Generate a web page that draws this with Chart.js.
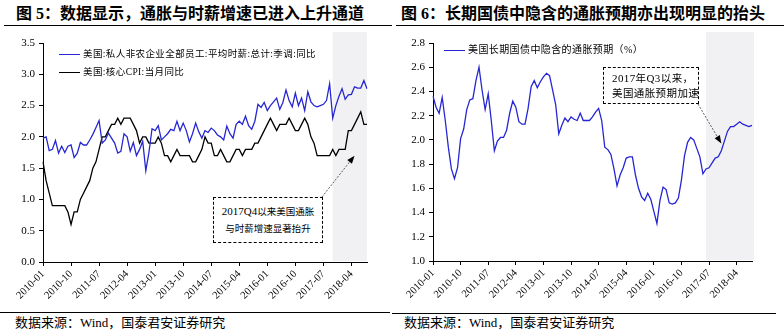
<!DOCTYPE html>
<html>
<head>
<meta charset="utf-8">
<script src="https://cdn.jsdelivr.net/npm/chart.js@4.4.1/dist/chart.umd.min.js"></script>
<style>
    body {
        margin: 0;
        width: 784px;
        height: 335px;
        background: #fff;
        overflow: hidden;
        position: relative;
        font-family: 'Liberation Serif', 'Noto Sans CJK SC', serif;
        color: #000;
    }
    .title {
        position: absolute;
        top: 3px;
        font-size: 16px;
        font-weight: bold;
        white-space: nowrap;
        line-height: 22px;
    }
    .rule {
        position: absolute;
        height: 0;
        border-top: 1.5px solid #000;
    }
    .source {
        position: absolute;
        top: 314px;
        font-size: 13px;
        line-height: 18px;
        white-space: nowrap;
    }
    canvas {
        position: absolute;
        top: 30px;
    }
    .legend-item {
        position: absolute;
        font-size: 9.5px;
        letter-spacing: 0.4px;
        line-height: 12px;
        white-space: nowrap;
    }
    .legend-item i {
        display: inline-block;
        width: 21px;
        height: 0;
        border-top: 1.5px solid;
        vertical-align: middle;
        margin-right: 3px;
    }
    .note {
        position: absolute;
        border: 1.3px dashed #000;
        background: #fff;
        font-size: 9.5px;
        white-space: nowrap;
        box-sizing: border-box;
    }
    .note .num {
        font-size: 11px;
    }
</style>
</head>
<body>

<div class="title" style="left:16px;">图 5：数据显示，通胀与时薪增速已进入上升通道</div>
<div class="title" style="left:401px;">图 6：长期国债中隐含的通胀预期亦出现明显的抬头</div>
<div class="rule" style="left:4px; width:388px; top:25px;"></div>
<div class="rule" style="left:396px; width:388px; top:25px;"></div>

<canvas id="wageChart" width="390" height="282" style="left:0;"></canvas>
<canvas id="breakevenChart" width="392" height="282" style="left:392px;"></canvas>

<div class="legend-item" style="left:59px; top:48px;"><i style="color:#2626d4;"></i>美国:私人非农企业全部员工:平均时薪:总计:季调:同比</div>
<div class="legend-item" style="left:59px; top:66px;"><i style="color:#000;"></i>美国:核心CPI:当月同比</div>
<div class="legend-item" style="left:444px; top:44px; font-size:10px; letter-spacing:0.4px;"><i style="color:#2626d4;"></i>美国长期国债中隐含的通胀预期（%）</div>

<div class="note" id="noteLeft" style="left:213px; top:197px; width:110px; height:46px; text-align:center; line-height:17px; padding-top:5px;">
    <span class="num">2017Q4</span>以来美国通胀<br>与时薪增速显著抬升
</div>
<div class="note" id="noteRight" style="left:603px; top:67px; width:96px; height:37px; line-height:15px; padding:3px 0 0 8px; font-size:10.5px; letter-spacing:0.4px;">
    <span class="num">2017</span>年<span class="num">Q3</span>以来，<br>美国通胀预期加速
</div>

<div class="rule" style="left:0; width:390px; top:312px;"></div>
<div class="rule" style="left:392px; width:384px; top:313px;"></div>
<div class="source" style="left:15px;">数据来源：Wind，国泰君安证券研究</div>
<div class="source" style="left:404px;">数据来源：Wind，国泰君安证券研究</div>

<script>
// 月份：2010-01 至 2018-09
const months = [];
for (let y = 2010; y <= 2018; y++) {
    for (let m = 1; m <= 12; m++) {
        if (y === 2018 && m > 9) break;
        months.push(y + '-' + String(m).padStart(2, '0'));
    }
}

// 美国私人非农企业全部员工平均时薪同比（%）
const wageGrowth = [
    1.98, 2.00, 1.78, 1.80, 1.94, 1.74, 1.85, 1.75, 1.85, 1.87, 1.67, 1.74,
    1.91, 1.87, 1.87, 1.95, 2.04, 2.15, 2.26, 1.90, 1.95, 2.06, 1.98, 1.90,
    1.74, 1.77, 2.05, 2.00, 1.77, 1.91, 1.70, 1.80, 1.93, 1.46, 1.75, 2.13,
    2.10, 2.18, 1.95, 2.00, 2.05, 2.12, 2.10, 2.25, 2.10, 2.22, 2.10, 1.92,
    2.05, 2.22, 2.08, 1.98, 2.10, 2.07, 2.14, 2.10, 2.03, 2.00, 1.95, 2.17,
    2.05, 1.98, 2.20, 2.25, 2.20, 2.33, 2.18, 2.12, 2.25, 2.52, 2.47, 2.55,
    2.42, 2.50, 2.56, 2.62, 2.44, 2.55, 2.75, 2.58, 2.48, 2.70, 2.50, 2.62,
    2.42, 2.72, 2.56, 2.50, 2.48, 2.50, 2.52, 2.58, 2.85, 2.30, 2.50, 2.65,
    2.77, 2.60, 2.67, 2.68, 2.80, 2.78, 2.78, 2.90, 2.77
];

// 美国核心CPI当月同比（%）
const coreCpi = [
    1.6, 1.3, 1.1, 0.9, 0.9, 0.9, 0.9, 0.9, 0.8, 0.6, 0.8, 0.8,
    1.0, 1.1, 1.2, 1.3, 1.5, 1.6, 1.8, 2.0, 2.0, 2.1, 2.2, 2.2,
    2.3, 2.2, 2.3, 2.3, 2.3, 2.2, 2.1, 1.9, 2.0, 2.0, 1.9, 1.9,
    1.9, 2.0, 1.9, 1.7, 1.7, 1.6, 1.7, 1.8, 1.7, 1.7, 1.7, 1.7,
    1.6, 1.6, 1.7, 1.8, 2.0, 1.9, 1.9, 1.7, 1.7, 1.8, 1.7, 1.6,
    1.6, 1.7, 1.8, 1.8, 1.7, 1.8, 1.8, 1.8, 1.9, 1.9, 2.0, 2.1,
    2.2, 2.3, 2.2, 2.1, 2.2, 2.2, 2.2, 2.3, 2.2, 2.1, 2.1, 2.2,
    2.3, 2.2, 2.0, 1.9, 1.7, 1.7, 1.7, 1.7, 1.7, 1.8, 1.7, 1.8,
    1.8, 1.8, 2.1, 2.1, 2.2, 2.3, 2.4, 2.2, 2.2
];

// 美国长期国债隐含通胀预期（%）
const breakeven = [
    2.36, 2.27, 2.22, 2.35, 2.16, 1.94, 1.76, 1.68, 1.77, 2.01, 2.09, 2.25,
    2.33, 2.34, 2.49, 2.60, 2.41, 2.25, 2.38, 2.16, 1.91, 1.99, 2.02, 2.02,
    2.08, 2.22, 2.32, 2.27, 2.15, 2.13, 2.13, 2.26, 2.44, 2.49, 2.43, 2.48,
    2.52, 2.55, 2.53, 2.41, 2.29, 2.05, 2.12, 2.18, 2.15, 2.19, 2.17, 2.16,
    2.22, 2.16, 2.16, 2.16, 2.19, 2.23, 2.26, 2.16, 1.94, 1.92, 1.88, 1.76,
    1.62, 1.71, 1.77, 1.85, 1.86, 1.86, 1.71, 1.60, 1.53, 1.50, 1.56, 1.51,
    1.41, 1.31, 1.50, 1.61, 1.59, 1.48, 1.47, 1.48, 1.52, 1.67, 1.87, 1.98,
    2.02, 2.00, 1.93, 1.86, 1.72, 1.76, 1.77, 1.81, 1.85, 1.86, 1.91, 1.99,
    2.07, 2.11, 2.11, 2.13, 2.15, 2.13, 2.12, 2.11, 2.12
];

// 坐标轴刻度
const wageTicks = { min: 0, max: 3.5, step: 0.5 };
const breakevenTicks = { min: 1.0, max: 2.8, step: 0.2 };
const labelEvery = 9;

// 阴影区间起点
const wageShadeFrom = '2017-10';
const breakevenShadeFrom = '2017-06';

// 箭头指向的位置
const wageArrowAt = { month: '2018-05', value: 1.70 };
const breakevenArrowAt = { month: '2017-11', value: 1.97 };

const BLUE = '#2626d4';

// 阴影区间
const shadePlugin = {
    id: 'shadeRegion',
    beforeDraw(chart, args, opts) {
        const { ctx, chartArea, scales } = chart;
        const left = scales.x.getPixelForValue(months.indexOf(opts.from));
        ctx.save();
        ctx.fillStyle = opts.color;
        ctx.fillRect(left, chartArea.top - opts.extendTop,
            chartArea.right - left + opts.extendRight,
            chartArea.bottom - chartArea.top + opts.extendTop - 1);
        ctx.restore();
    }
};

// 注释框指向数据的虚线箭头
const arrowPlugin = {
    id: 'noteArrow',
    afterDatasetsDraw(chart, args, opts) {
        const { ctx, scales } = chart;
        const c = chart.canvas.getBoundingClientRect();
        const b = document.getElementById(opts.box).getBoundingClientRect();
        const x0 = b.right - c.left - 1;
        const y0 = (opts.corner === 'top' ? b.top : b.bottom) - c.top;
        const x1 = scales.x.getPixelForValue(months.indexOf(opts.to.month));
        const y1 = scales.y.getPixelForValue(opts.to.value);
        const ang = Math.atan2(y1 - y0, x1 - x0);
        const len = 8, half = 3;

        ctx.save();
        ctx.strokeStyle = '#333';
        ctx.lineWidth = 0.8;
        ctx.setLineDash([2, 1.5]);
        ctx.beginPath();
        ctx.moveTo(x0, y0);
        ctx.lineTo(x1 - Math.cos(ang) * len, y1 - Math.sin(ang) * len);
        ctx.stroke();
        ctx.setLineDash([]);
        ctx.fillStyle = '#000';
        ctx.beginPath();
        ctx.moveTo(x1, y1);
        ctx.lineTo(x1 - Math.cos(ang) * len - Math.sin(ang) * half, y1 - Math.sin(ang) * len + Math.cos(ang) * half);
        ctx.lineTo(x1 - Math.cos(ang) * len + Math.sin(ang) * half, y1 - Math.sin(ang) * len - Math.cos(ang) * half);
        ctx.closePath();
        ctx.fill();
        ctx.restore();
    }
};

document.addEventListener('DOMContentLoaded', function() {
    Chart.defaults.font.family = "'Liberation Serif', 'Times New Roman', serif";
    Chart.defaults.color = '#000';
    initWageChart();
    initBreakevenChart();
});

function lineDataset(label, data, color) {
    return {
        label: label,
        data: data,
        borderColor: color,
        borderWidth: 1.3,
        pointRadius: 0,
        tension: 0,
        fill: false
    };
}

function axisOptions(ticksCfg, yWidth, xHeight) {
    return {
        x: {
            type: 'category',
            offset: false,
            border: { display: true, color: '#000', width: 1 },
            grid: { display: true, drawOnChartArea: false, drawTicks: true, tickLength: 4, color: '#000' },
            ticks: {
                autoSkip: false,
                minRotation: 45,
                maxRotation: 45,
                padding: 2,
                font: { size: 10.5 }
            },
            afterBuildTicks: function(scale) {
                scale.ticks = scale.ticks.filter((t, i) => i % labelEvery === 0);
            },
            afterFit: function(scale) { scale.height = xHeight; }
        },
        y: {
            min: ticksCfg.min,
            max: ticksCfg.max,
            border: { display: true, color: '#000', width: 1 },
            grid: { display: true, drawOnChartArea: false, drawTicks: true, tickLength: 4, color: '#000' },
            ticks: {
                stepSize: ticksCfg.step,
                padding: 4,
                font: { size: 11 },
                callback: function(v) { return v.toFixed(1); }
            },
            afterFit: function(scale) { scale.width = yWidth; }
        }
    };
}

// 图5：时薪与核心CPI
function initWageChart() {
    const ctx = document.getElementById('wageChart');
    new Chart(ctx, {
        type: 'line',
        data: {
            labels: months,
            datasets: [
                lineDataset('美国:私人非农企业全部员工:平均时薪:总计:季调:同比', wageGrowth, BLUE),
                lineDataset('美国:核心CPI:当月同比', coreCpi, '#000')
            ]
        },
        options: {
            responsive: false,
            animation: false,
            layout: { padding: { top: 13, right: 23, left: 0, bottom: 0 } },
            plugins: {
                legend: { display: false },
                tooltip: { enabled: false },
                shadeRegion: { from: wageShadeFrom, color: '#f1f1f3', extendTop: 11, extendRight: 0 },
                noteArrow: { box: 'noteLeft', corner: 'top', to: wageArrowAt }
            },
            scales: axisOptions(wageTicks, 43, 50)
        },
        plugins: [shadePlugin, arrowPlugin]
    });
}

// 图6：长期国债隐含通胀预期
function initBreakevenChart() {
    const ctx = document.getElementById('breakevenChart');
    new Chart(ctx, {
        type: 'line',
        data: {
            labels: months,
            datasets: [
                lineDataset('美国长期国债中隐含的通胀预期（%）', breakeven, BLUE)
            ]
        },
        options: {
            responsive: false,
            animation: false,
            layout: { padding: { top: 13, right: 32, left: 0, bottom: 0 } },
            plugins: {
                legend: { display: false },
                tooltip: { enabled: false },
                shadeRegion: { from: breakevenShadeFrom, color: '#f1f1f3', extendTop: 11, extendRight: 2 },
                noteArrow: { box: 'noteRight', corner: 'bottom', to: breakevenArrowAt }
            },
            scales: axisOptions(breakevenTicks, 41, 51)
        },
        plugins: [shadePlugin, arrowPlugin]
    });
}
</script>
</body>
</html>
